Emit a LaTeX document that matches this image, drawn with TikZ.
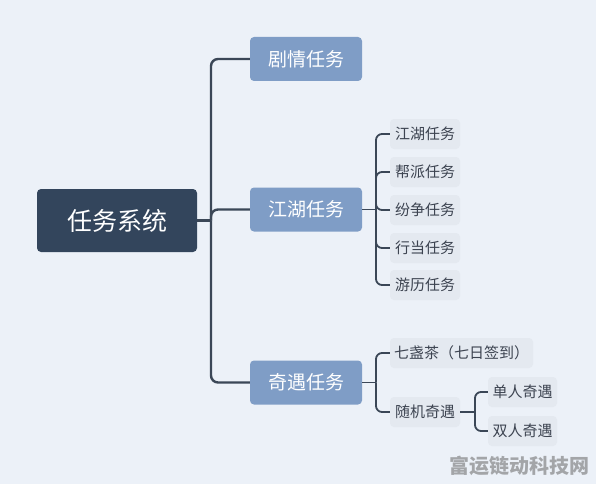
\documentclass[tikz,border=0pt]{standalone}
\usepackage{fontspec}
\setmainfont{Noto Sans CJK SC}
\definecolor{bgcol}{HTML}{ECF1F8}
\definecolor{rootcol}{HTML}{33455C}
\definecolor{midcol}{HTML}{7F9DC6}
\definecolor{leafcol}{HTML}{E4E9F0}
\definecolor{txtcol}{HTML}{3C4350}
\definecolor{linecol}{HTML}{3B4757}
\definecolor{markcol}{HTML}{A3A5A8}

\begin{document}
\begin{tikzpicture}[
    x=1pt, y=-1pt,
    root/.style={fill=rootcol, text=white, rounded corners=4pt, minimum width=160pt, minimum height=63pt, font=\fontsize{25}{30}\selectfont},
    topic/.style={fill=midcol, text=white, rounded corners=4pt, minimum width=112pt, minimum height=44pt, font=\fontsize{19}{23}\selectfont},
    leaf/.style={fill=leafcol, text=txtcol, rounded corners=4pt, minimum width=70pt, minimum height=30pt, inner xsep=4pt, font=\fontsize{15}{18}\selectfont},
    link/.style={draw=linecol, line width=2.4pt, rounded corners=7pt},
    sublink/.style={draw=linecol, line width=1.8pt, rounded corners=6pt}
]
    \useasboundingbox[fill=bgcol] (0, 0) rectangle (596, 484);

    % ROOT
    \node (root) at (117, 220.5) [root] {任务系统};

    % MAIN TOPICS
    \node (juqing) at (306, 59) [topic] {剧情任务};
    \node (jianghu) at (306, 209.5) [topic] {江湖任务};
    \node (qiyu) at (306, 382.5) [topic] {奇遇任务};

    % JIANGHU SUBTOPICS
    \node (jh_jianghu) at (425, 134) [leaf] {江湖任务};
    \node (jh_bangpai) at (425, 172) [leaf] {帮派任务};
    \node (jh_fenzheng) at (425, 210) [leaf] {纷争任务};
    \node (jh_hangdang) at (425, 248) [leaf] {行当任务};
    \node (jh_youli) at (425, 285) [leaf] {游历任务};

    % QIYU SUBTOPICS
    \node (qy_qizhancha) at (461.5, 353) [leaf, minimum width=143pt] {七盏茶（七日签到）};
    \node (qy_suiji) at (425, 412) [leaf] {随机奇遇};
    \node (sj_danren) at (522.5, 392) [leaf, minimum width=69pt] {单人奇遇};
    \node (sj_shuangren) at (522.5, 431) [leaf, minimum width=69pt] {双人奇遇};

    % Branch points
    \coordinate (trunk) at (211, 220.5);
    \coordinate (jh_fork) at (376, 209.5);
    \coordinate (qy_fork) at (376, 382.5);
    \coordinate (sj_fork) at (475, 412);

    % Connect root to main topics
    \draw[link] (root.east) -- (trunk);
    \draw[link] (trunk) |- (juqing.west);
    \draw[link] (trunk) |- (jianghu.west);
    \draw[link] (trunk) |- (qiyu.west);

    % Connect jianghu to its subtopics
    \draw[sublink] (jianghu.east) -- (jh_fork);
    \draw[sublink] (jh_fork) |- (jh_jianghu.west);
    \draw[sublink] (jh_fork) |- (jh_bangpai.west);
    \draw[sublink] (jh_fork) |- (jh_fenzheng.west);
    \draw[sublink] (jh_fork) |- (jh_hangdang.west);
    \draw[sublink] (jh_fork) |- (jh_youli.west);

    % Connect qiyu to its subtopics
    \draw[sublink] (qiyu.east) -- (qy_fork);
    \draw[sublink] (qy_fork) |- (qy_qizhancha.west);
    \draw[sublink] (qy_fork) |- (qy_suiji.west);
    \draw[sublink] (qy_suiji.east) -- (sj_fork);
    \draw[sublink] (sj_fork) |- (sj_danren.west);
    \draw[sublink] (sj_fork) |- (sj_shuangren.west);

    % WATERMARK
    \node (mark) at (519, 466) [text=markcol, font=\fontsize{20}{24}\selectfont\bfseries] {富运链动科技网};
\end{tikzpicture}
\end{document}
